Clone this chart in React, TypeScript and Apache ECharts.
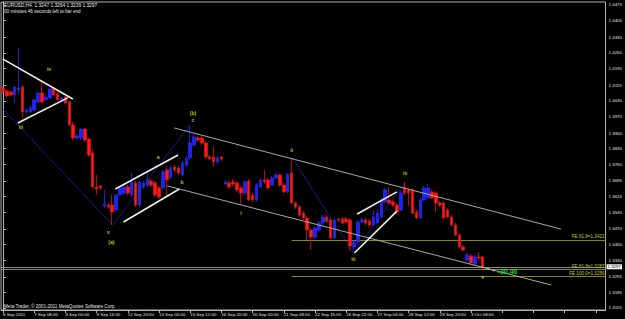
import React, { useEffect, useRef } from "react";
import * as echarts from "echarts";

const barCount = 155;
const timeLabels = [
  "6 Sep 2011", "7 Sep 08:00", "8 Sep 00:00", "9 Sep 16:00", "12 Sep 20:00",
  "14 Sep 04:00", "15 Sep 12:00", "16 Sep 20:00", "20 Sep 00:00", "21 Sep 08:00",
  "22 Sep 16:00", "26 Sep 22:00", "27 Sep 04:00", "28 Sep 12:00", "29 Sep 20:00",
  "3 Oct 08:00",
];
const priceTicks = [
  1.3115, 1.3185, 1.3255, 1.333, 1.34, 1.347, 1.3545, 1.3615, 1.3685, 1.376,
  1.383, 1.39, 1.3975, 1.4045, 1.4115, 1.419, 1.426, 1.433, 1.4405, 1.4475,
];

const barOpen = [
  1.4102, 1.4089, 1.4084, 1.4071, 1.4093, 1.4107, 1.3995, 1.3995, 1.4004, 1.404,
  1.408, 1.4049, 1.4058, 1.4102, 1.4076, 1.4049, 1.4062, 1.404, 1.3936, 1.3878,
  1.3878, 1.3918, 1.3874, 1.3811, 1.3658, 1.3663, 1.3573, 1.3577, 1.3577, 1.3555,
  1.3622, 1.3631, 1.3658, 1.3622, 1.3676, 1.3577, 1.3658, 1.3667, 1.3685, 1.3676,
  1.3654, 1.3654, 1.3734, 1.3703, 1.3748, 1.3743, 1.3712, 1.3757, 1.3788, 1.3847,
  1.3878, 1.3878, 1.3856, 1.3793, 1.3793, 1.377, 1.3793, 1.3672, 1.3676, 1.3681,
  1.3676, 1.3654, 1.3631, 1.3685, 1.3622, 1.36, 1.3658, 1.369, 1.369, 1.3667,
  1.3698, 1.3712, 1.3667, 1.3636, 1.3721, 1.3586, 1.3568, 1.3541, 1.3519, 1.3465,
  1.3433, 1.3465, 1.3496, 1.3523, 1.351, 1.3429, 1.3514, 1.3514, 1.3514, 1.351,
  1.3389, 1.3411, 1.3501, 1.351, 1.3505, 1.3487, 1.3496, 1.3523, 1.3591, 1.36,
  1.3591, 1.3577, 1.3555, 1.3658, 1.3645, 1.3645, 1.3546, 1.3519, 1.36, 1.3609,
  1.3636, 1.3631, 1.3586, 1.3586, 1.3555, 1.3523, 1.3487, 1.3442, 1.3389, 1.333,
  1.3348, 1.3312, 1.3344, 1.3344,
];
const barClose = [
  1.4084, 1.4067, 1.4071, 1.4107, 1.4102, 1.3995, 1.4004, 1.4013, 1.4049, 1.408,
  1.404, 1.4062, 1.4098, 1.4071, 1.4049, 1.4058, 1.4035, 1.3936, 1.3878, 1.3887,
  1.3918, 1.3869, 1.3802, 1.3658, 1.3649, 1.3654, 1.3582, 1.3568, 1.3546, 1.3622,
  1.3654, 1.3658, 1.3631, 1.3681, 1.3577, 1.3681, 1.3676, 1.369, 1.3667, 1.3622,
  1.3613, 1.3725, 1.369, 1.3743, 1.3734, 1.3721, 1.3766, 1.3788, 1.3856, 1.3883,
  1.3869, 1.3856, 1.3793, 1.3784, 1.377, 1.3788, 1.3784, 1.3681, 1.3658, 1.3672,
  1.3645, 1.3631, 1.3681, 1.36, 1.36, 1.3667, 1.369, 1.3681, 1.3654, 1.3698,
  1.3712, 1.3667, 1.3636, 1.3716, 1.3586, 1.3568, 1.3532, 1.3519, 1.3465, 1.3433,
  1.3474, 1.3496, 1.3523, 1.3505, 1.3429, 1.351, 1.351, 1.3496, 1.3501, 1.3393,
  1.3411, 1.3501, 1.351, 1.3496, 1.3487, 1.3523, 1.3541, 1.36, 1.3645, 1.3586,
  1.3577, 1.3546, 1.3631, 1.3631, 1.3631, 1.3541, 1.3519, 1.36, 1.3654, 1.3654,
  1.3609, 1.3586, 1.3577, 1.3519, 1.3523, 1.3487, 1.3442, 1.3389, 1.3375, 1.3353,
  1.3317, 1.3344, 1.3339, 1.3297,
];
const barHigh = [
  1.4111, 1.4098, 1.4089, 1.4111, 1.4282, 1.4116, 1.4013, 1.4022, 1.4053, 1.4084,
  1.4138, 1.4071, 1.4102, 1.4107, 1.4084, 1.4062, 1.4076, 1.4044, 1.395, 1.3896,
  1.3923, 1.3923, 1.3878, 1.3824, 1.3712, 1.3667, 1.3645, 1.3586, 1.3622, 1.3627,
  1.3658, 1.3667, 1.3667, 1.3721, 1.3685, 1.369, 1.3685, 1.3725, 1.3694, 1.3685,
  1.3663, 1.3734, 1.3752, 1.3752, 1.3757, 1.3752, 1.3775, 1.3797, 1.3936, 1.3896,
  1.3887, 1.3887, 1.3865, 1.3802, 1.3838, 1.3797, 1.3797, 1.369, 1.369, 1.3694,
  1.3685, 1.3663, 1.369, 1.3694, 1.3631, 1.3676, 1.3698, 1.3734, 1.3698, 1.3707,
  1.3721, 1.3716, 1.3676, 1.3721, 1.3788, 1.3595, 1.3577, 1.355, 1.3528, 1.3474,
  1.3483, 1.3505, 1.3532, 1.3532, 1.3519, 1.3519, 1.3519, 1.3523, 1.3523, 1.3519,
  1.342, 1.351, 1.3523, 1.3519, 1.3514, 1.3555, 1.3559, 1.3609, 1.3654, 1.3654,
  1.36, 1.3586, 1.364, 1.3681, 1.3654, 1.3654, 1.3555, 1.3609, 1.3663, 1.3672,
  1.3645, 1.364, 1.3595, 1.3595, 1.3564, 1.3532, 1.3496, 1.3451, 1.3398, 1.3362,
  1.3357, 1.3353, 1.3366, 1.3348,
];
const barLow = [
  1.4076, 1.4058, 1.4067, 1.4035, 1.4071, 1.3968, 1.3986, 1.399, 1.3999, 1.4035,
  1.4035, 1.4044, 1.4053, 1.4067, 1.4044, 1.4044, 1.4031, 1.3932, 1.3869, 1.3869,
  1.3869, 1.386, 1.3793, 1.3654, 1.3622, 1.3645, 1.3564, 1.3559, 1.3487, 1.3546,
  1.3618, 1.3622, 1.3622, 1.3613, 1.3568, 1.3568, 1.3649, 1.3658, 1.3658, 1.3613,
  1.3604, 1.3645, 1.3613, 1.3694, 1.3725, 1.3712, 1.3707, 1.3748, 1.3779, 1.3838,
  1.386, 1.3847, 1.3784, 1.3779, 1.3748, 1.3761, 1.3775, 1.3667, 1.3649, 1.3663,
  1.3636, 1.3577, 1.3622, 1.3595, 1.3591, 1.3591, 1.3654, 1.3672, 1.3645, 1.3663,
  1.3694, 1.3658, 1.3631, 1.3631, 1.3582, 1.3559, 1.3523, 1.351, 1.342, 1.3375,
  1.3424, 1.3456, 1.3487, 1.3496, 1.3424, 1.3424, 1.3501, 1.3492, 1.3496, 1.3371,
  1.3375, 1.3402, 1.3496, 1.3487, 1.3478, 1.3483, 1.3492, 1.3519, 1.3586, 1.3582,
  1.3568, 1.3537, 1.355, 1.3622, 1.3573, 1.3537, 1.3514, 1.3514, 1.3595, 1.3604,
  1.3604, 1.3546, 1.3568, 1.3514, 1.3519, 1.3483, 1.3438, 1.3384, 1.3371, 1.3321,
  1.3312, 1.3308, 1.333, 1.3289,
];

const bidPrice = 1.3297;
const feLevels = [
  { name: "FE 61.8=1.3421", price: 1.3421, from: 74 },
  { name: "FE 61.8=1.3287", price: 1.3287, from: -0.5 },
  { name: "FE 100.0=1.3256", price: 1.3256, from: 74 },
];
// trend lines drawn on the chart: [barIndex, price] pairs
const boldTrendLines = [
  [[-0.1, 1.4233], [17.9, 1.4053]],
  [[3.8, 1.3945], [16.6, 1.4058]],
  [[28.8, 1.3649], [44.9, 1.3802]],
  [[30.9, 1.3501], [45.2, 1.3649]],
  [[90.8, 1.3537], [101.0, 1.3636]],
  [[90.1, 1.3362], [101.0, 1.355]],
];
const channelLines = [
  [[43.9, 1.3923], [143.1, 1.3469]],
  [[42.1, 1.3663], [140.6, 1.3218]],
];
const waveLines = [
  [[0, 1.4008], [28.1, 1.3487]],
  [[28.1, 1.3487], [48, 1.3936]],
  [[74.2, 1.3788], [89.8, 1.3362]],
  [[89.8, 1.3362], [103.1, 1.3676]],
];
const waveLabelText = ["iv", "iii", "v", "(a)", "a", "b", "(b)", "c", "i", "ii", "iii", "iv", "v"];
const waveLabelPos = [
  [11.8, 1.4188], [4.6, 1.3927], [27.05, 1.3456], [27.8, 1.3411], [39.8, 1.3793],
  [45.9, 1.3681], [48.7, 1.399], [48.7, 1.3959], [61, 1.3541], [74, 1.3824],
  [89.8, 1.3335], [103.1, 1.3721], [123, 1.3254],
];
const pipText = "-30.46";
const pipPos = [126.8, 1.3277];
const pipLeader = [[123, 1.3299], [126.5, 1.3278]];

const titleText = "EURUSD,H4  1.3247 1.3264 1.3239 1.3297";
const timerText = "00 minutes 46 seconds left to bar end";
const footerText = "Meta Trader, \u00a9 2001-2011 MetaQuotes Software Corp.";

const FONT = "Liberation Sans";

export default function App() {
  const ref = useRef<HTMLDivElement>(null);
  useEffect(() => {
    if (!ref.current) return;
    const chart = echarts.init(ref.current, undefined, { renderer: "svg" });
    const slots = Array.from({ length: barCount }, (_, i) => String(i));
    const candles = barOpen.map((o, i) => [o, barClose[i], barLow[i], barHigh[i]]);
    const axisColor = "#b4b4b4";
    const option: any = {
      animation: false,
      backgroundColor: "#000000",
      grid: {
        left: 1, right: 19, top: 2, bottom: 9,
        show: true, borderColor: axisColor, borderWidth: 1, backgroundColor: "#000000",
      },
      xAxis: [
        {
          type: "category",
          data: slots,
          boundaryGap: true,
          axisLine: { show: true, lineStyle: { color: axisColor, width: 1 } },
          axisTick: { show: true, interval: 7, alignWithLabel: true, length: 3, lineStyle: { color: axisColor } },
          axisLabel: {
            interval: 7,
            formatter: (_v: string, i: number) => timeLabels[i / 8] ?? "",
            align: "left",
            margin: 2,
            color: "#e0e0e0",
            fontSize: 4.4,
            fontFamily: FONT,
          },
          splitLine: { show: false },
        },
        { type: "value", min: -0.5, max: barCount - 0.5, show: false },
      ],
      yAxis: [
        {
          type: "value",
          position: "right",
          min: 1.3106,
          max: 1.44884,
          axisLine: { show: true, lineStyle: { color: axisColor, width: 1 } },
          axisTick: { show: true, length: 3, customValues: priceTicks, lineStyle: { color: axisColor } },
          axisLabel: {
            customValues: priceTicks,
            formatter: (v: number) => v.toFixed(4),
            color: "#e0e0e0",
            fontSize: 4.4,
            margin: 3,
            fontFamily: FONT,
          },
          splitLine: { show: false },
        },
      ],
      series: [
        {
          type: "lines",
          coordinateSystem: "cartesian2d",
          xAxisIndex: 1,
          yAxisIndex: 0,
          silent: true,
          z: 1,
          data: waveLines.map((c) => ({ coords: c })),
          lineStyle: { color: "#1c1c90", width: 0.9, opacity: 1 },
        },
        {
          type: "lines",
          coordinateSystem: "cartesian2d",
          xAxisIndex: 1,
          yAxisIndex: 0,
          silent: true,
          z: 1,
          data: feLevels.map((f) => ({
            coords: [[f.from, f.price], [barCount - 0.5, f.price]],
            label: { show: true, formatter: f.name },
          })),
          lineStyle: { color: "#8a8a00", width: 1, opacity: 1 },
          label: {
            show: true,
            position: "insideEndTop",
            distance: 1,
            color: "#c8c820",
            fontSize: 4.6,
            fontFamily: FONT,
          },
        },
        {
          type: "candlestick",
          xAxisIndex: 0,
          yAxisIndex: 0,
          data: candles,
          barWidth: 3,
          z: 2,
          itemStyle: {
            color: "#2020ff",
            color0: "#ff1a1a",
            borderColor: "#2a2ae8",
            borderColor0: "#e01010",
            borderWidth: 0.8,
          },
          markLine: {
            silent: true,
            symbol: "none",
            data: [{ yAxis: bidPrice }],
            lineStyle: { color: "#a8a8a8", width: 0.8, type: "solid" },
            label: {
              show: true,
              position: "end",
              distance: 1,
              formatter: bidPrice.toFixed(4),
              backgroundColor: "#ffffff",
              color: "#000000",
              fontSize: 4.4,
              fontFamily: FONT,
              padding: [1, 1, 0, 1],
            },
          },
        },
        {
          type: "lines",
          coordinateSystem: "cartesian2d",
          xAxisIndex: 1,
          yAxisIndex: 0,
          silent: true,
          z: 3,
          data: channelLines.map((c) => ({ coords: c })),
          lineStyle: { color: "#a8a8a8", width: 1, opacity: 1 },
        },
        {
          type: "lines",
          coordinateSystem: "cartesian2d",
          xAxisIndex: 1,
          yAxisIndex: 0,
          silent: true,
          z: 3,
          data: boldTrendLines.map((c) => ({ coords: c })),
          lineStyle: { color: "#eeeeee", width: 1.6, opacity: 1 },
        },
        {
          type: "lines",
          coordinateSystem: "cartesian2d",
          xAxisIndex: 1,
          yAxisIndex: 0,
          silent: true,
          z: 3,
          data: [{ coords: pipLeader }],
          lineStyle: { color: "#e0e0a0", width: 0.8, type: "dashed", opacity: 1 },
        },
        {
          type: "scatter",
          xAxisIndex: 1,
          yAxisIndex: 0,
          silent: true,
          z: 4,
          symbolSize: 0.1,
          itemStyle: { color: "rgba(0,0,0,0)" },
          data: waveLabelPos.map((p, i) => ({ value: p, name: waveLabelText[i] })),
          label: {
            show: true,
            position: "inside",
            formatter: "{b}",
            color: "#f0f000",
            fontSize: 5,
            fontWeight: "bold",
            fontFamily: FONT,
          },
        },
        {
          type: "scatter",
          xAxisIndex: 1,
          yAxisIndex: 0,
          silent: true,
          z: 4,
          symbolSize: 0.1,
          itemStyle: { color: "rgba(0,0,0,0)" },
          data: [{ value: pipPos, name: pipText }],
          label: {
            show: true,
            position: "right",
            distance: 0,
            formatter: "{b}",
            color: "#22ff22",
            fontSize: 7,
            fontWeight: "bold",
            fontFamily: FONT,
          },
        },
      ],
      graphic: [
        {
          type: "text", x: 4, y: 5, silent: true,
          style: { text: titleText, fill: "#e6e6e6", fontSize: 4.8, fontFamily: FONT, verticalAlign: "middle" },
        },
        {
          type: "text", x: 4, y: 11, silent: true,
          style: { text: timerText, fill: "#e6e6e6", fontSize: 4.6, fontFamily: FONT, verticalAlign: "middle" },
        },
        {
          type: "text", x: 4, y: 306, silent: true,
          style: { text: footerText, fill: "#e6e6e6", fontSize: 4.6, fontFamily: FONT, verticalAlign: "middle" },
        },
      ],
    };
    chart.setOption(option);
    return () => chart.dispose();
  }, []);
  return (
    <div
      ref={ref}
      style={{ position: "fixed", left: 0, top: 0, width: 625, height: 319, background: "#000" }}
    />
  );
}
